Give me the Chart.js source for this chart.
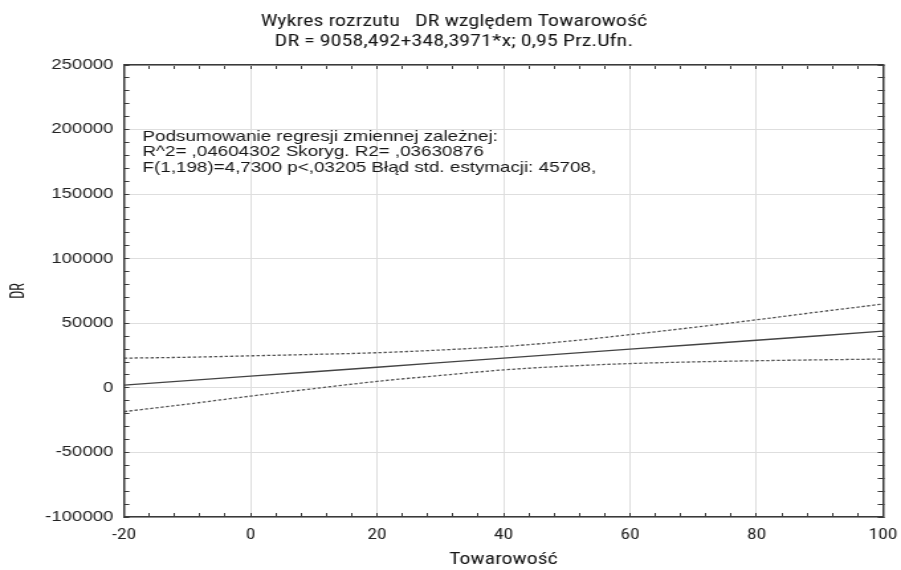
<!DOCTYPE html>
<html><head><meta charset="utf-8">
<script src="https://cdn.jsdelivr.net/npm/chart.js@4/dist/chart.umd.min.js"></script>
<style>html,body{margin:0;padding:0;background:#fff}canvas{display:block}</style>
</head><body>
<canvas id="c" width="680" height="570" style="width:901px;height:570px"></canvas>
<script>
// ---- data ----
const titleLines = ['Wykres rozrzutu   DR względem Towarowość', 'DR = 9058,492+348,3971*x; 0,95 Prz.Ufn.'];
const xTitle = 'Towarowość';
const yTitle = 'DR';
const noteLines = [
  'Podsumowanie regresji zmiennej zależnej:',
  'R^2= ,04604302 Skoryg. R2= ,03630876',
  'F(1,198)=4,7300 p<,03205 Błąd std. estymacji: 45708,'
];
const xValues     = [-20, -10, 0, 10, 20, 30, 40, 50, 60, 70, 80, 90, 100];
const fitValues   = [2100, 5600, 9100, 12500, 16000, 19500, 23000, 26500, 30000, 33400, 36900, 40400, 43900];
const upperValues = [23000, 23700, 24800, 25900, 27200, 29300, 32000, 36000, 41200, 46800, 52700, 58900, 64900];
const lowerValues = [-18400, -12600, -6400, -600, 5000, 9600, 13900, 16800, 18800, 20100, 21000, 21700, 22300];
const xRange = [-20, 100], xMinorStep = 4, xMajorStep = 20;
const yRange = [-100000, 250000], yMinorStep = 10000, yMajorStep = 50000;

// ---- fonts ----
const mctx = document.createElement('canvas').getContext('2d');
function hasFont(name) {
  const s = 'Wykres rozrzutu WMmiil 0123456789';
  mctx.font = '40px monospace'; const a = mctx.measureText(s).width;
  mctx.font = '40px "' + name + '", monospace'; const b = mctx.measureText(s).width;
  return Math.abs(a - b) > 0.5;
}
const narrowName = ['Liberation Sans Narrow', 'Roboto Condensed', 'DejaVu Sans Condensed', 'Liberation Sans']
  .find(hasFont) || 'Liberation Sans';
const NARROW = '"' + narrowName + '", "Liberation Sans", Arial, sans-serif';
const REG = '"Liberation Sans", Arial, sans-serif';
// size a font so a text spans a given width (canvas px), capped at a max size
function fitSize(text, family, width, maxSize) {
  mctx.font = '100px ' + family;
  return Math.min(maxSize, 100 * width / mctx.measureText(text).width);
}
const titleSize = fitSize(titleLines[0], NARROW, 292, 18);
const xTickSize = fitSize('100', NARROW, 21.9, 17);
const axisTitleSize = fitSize(xTitle, NARROW, 82, 18);
const yTitleSize = Math.min(titleSize * 0.85, 15.5);

const isMajor = (v, step) => Math.abs(v % step) < 1e-6;
const CA_LEFT = 93.6, PAD_LEFT = 18.8, PAD_RIGHT = 13.6, BOTTOM_H = 53;
const TL = -4; // inward tick marks
const TXT = '#161616';

const notePlugin = {
  id: 'note',
  afterDatasetsDraw(chart) {
    const {ctx, chartArea} = chart;
    ctx.save();
    ctx.font = '14.2px ' + REG;
    ctx.fillStyle = TXT;
    ctx.textBaseline = 'middle';
    ctx.textAlign = 'left';
    noteLines.forEach((t, i) => ctx.fillText(t, chartArea.left + 14.0, chartArea.top + 71.7 + i * 15.8));
    ctx.restore();
  }
};

const pts = arr => xValues.map((x, i) => ({x: x, y: arr[i]}));
const lineCol = '#444444', dashCol = '#505050';

const xLh = xTickSize * 1.2;
const yTitleLh = yTitleSize * 1.2;
const xTitleLh = axisTitleSize * 1.2;

const axisBase = (range) => ({
  type: 'linear', min: range[0], max: range[1],
  border: {display: true, color: '#3a3a3a', width: 1.5},
});
const noPadH = s => { s.paddingLeft = 0; s.paddingRight = 0; };
const noPadV = s => { s.paddingTop = 0; s.paddingBottom = 0; };

new Chart(document.getElementById('c'), {
  type: 'scatter',
  data: {
    datasets: [
      {label: 'upper', data: pts(upperValues), showLine: true, borderColor: dashCol, borderWidth: 1.3,
       borderDash: [2.4, 1.6], pointRadius: 0, cubicInterpolationMode: 'monotone', fill: false},
      {label: 'lower', data: pts(lowerValues), showLine: true, borderColor: dashCol, borderWidth: 1.3,
       borderDash: [2.4, 1.6], pointRadius: 0, cubicInterpolationMode: 'monotone', fill: false},
      {label: 'fit', data: pts(fitValues), showLine: true, borderColor: lineCol, borderWidth: 1.4,
       pointRadius: 0, tension: 0, fill: false}
    ]
  },
  options: {
    responsive: false, animation: false, events: [],
    layout: {padding: {left: PAD_LEFT, right: PAD_RIGHT, top: 0, bottom: 0}},
    plugins: {
      legend: {display: false}, tooltip: {enabled: false},
      title: {display: true, text: titleLines, color: TXT,
        font: {family: NARROW, size: titleSize, weight: 'normal', lineHeight: '20px'},
        padding: {top: 11.7, bottom: 13.3}}
    },
    scales: {
      x: Object.assign(axisBase(xRange), {
        position: 'bottom',
        afterFit: s => { s.height = BOTTOM_H; noPadH(s); },
        ticks: {stepSize: xMinorStep, autoSkip: false, maxRotation: 0, color: '#222',
          padding: 535 - 517 - TL - xLh / 2,
          font: {family: NARROW, size: xTickSize},
          callback: v => isMajor(v, xMajorStep) ? String(v) : ''},
        grid: {color: c => (c.tick && isMajor(c.tick.value, xMajorStep)) ? '#dedede' : 'rgba(0,0,0,0)',
          tickColor: '#3a3a3a', tickLength: TL, tickWidth: 1, lineWidth: 1},
        title: {display: true, text: xTitle, color: TXT,
          font: {family: NARROW, size: axisTitleSize}, padding: {top: 0, bottom: 10 - xTitleLh / 2}}
      }),
      x2: Object.assign(axisBase(xRange), {
        position: 'top',
        afterFit: s => { s.height = 0; noPadH(s); },
        ticks: {stepSize: xMinorStep, autoSkip: false, display: false},
        grid: {drawOnChartArea: false, tickColor: '#3a3a3a', tickLength: TL, tickWidth: 1}
      }),
      y: Object.assign(axisBase(yRange), {
        position: 'left',
        afterFit: s => { s.width = CA_LEFT - PAD_LEFT; noPadV(s); },
        ticks: {stepSize: yMinorStep, autoSkip: false, color: '#222',
          padding: CA_LEFT - 85.5 - TL,
          font: {family: REG, size: 14},
          callback: v => isMajor(v, yMajorStep) ? String(v) : ''},
        grid: {color: c => (c.tick && isMajor(c.tick.value, yMajorStep)) ? '#dedede' : 'rgba(0,0,0,0)',
          tickColor: '#3a3a3a', tickLength: TL, tickWidth: 1, lineWidth: 1},
        title: {display: true, text: yTitle, color: TXT,
          font: {family: NARROW, size: yTitleSize},
          padding: {top: 14.6 - PAD_LEFT - yTitleLh / 2, bottom: 0}}
      }),
      y2: Object.assign(axisBase(yRange), {
        position: 'right',
        afterFit: s => { s.width = 0; noPadV(s); },
        ticks: {stepSize: yMinorStep, autoSkip: false, display: false},
        grid: {drawOnChartArea: false, tickColor: '#3a3a3a', tickLength: TL, tickWidth: 1}
      })
    }
  },
  plugins: [notePlugin]
});
</script>
</body></html>
